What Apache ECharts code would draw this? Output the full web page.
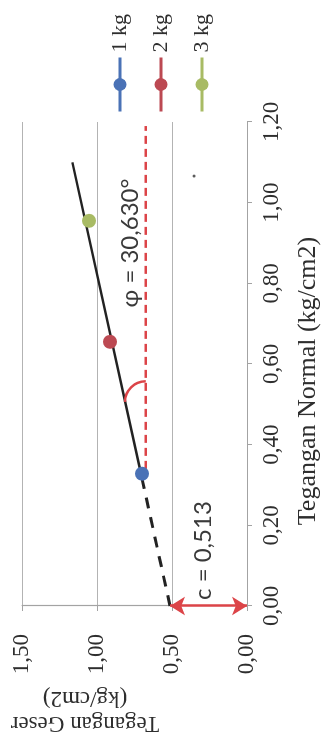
<!DOCTYPE html>
<html>
<head>
<meta charset="utf-8">
<script src="https://cdn.jsdelivr.net/npm/echarts@6/dist/echarts.min.js"></script>
<style>
  html, body { margin: 0; padding: 0; background: #fff; overflow: hidden; width: 323px; height: 749px; }
  /* the chart is laid out landscape and turned a quarter turn to stand upright on the page */
  #chart { position: absolute; left: 0; top: 0; width: 749px; height: 323px;
           transform-origin: 0 0; transform: translateY(749px) rotate(-90deg); }
</style>
</head>
<body>
<div id="chart"></div>
<script>
// shear test results: one point per normal load
const loadNames = ['1 kg', '2 kg', '3 kg'];
const normalStress = [0.328, 0.655, 0.955];   // kg/cm2
const shearStress = [0.700, 0.913, 1.053];    // kg/cm2

// Mohr-Coulomb envelope
const cohesion = 0.513;        // c, kg/cm2
const frictionAngle = 30.630;  // phi, degrees
const envelopeDashedFrom = 0;
const envelopeSolidFrom = 0.328;
const envelopeEnd = 1.10;

// horizontal reference used to mark the friction angle
const refLevel = 0.675;
const refFrom = 0.34;
const refTo = 1.19;
const angleMarkAt = 0.506;

// loose speck on the plot
const speck = [1.066, 0.353];

// annotation anchors
const cLabelAt = [0.01, 0.29];
const phiLabelAt = [0.90, 0.775];

// axis ranges
const normalMin = 0, normalMax = 1.2, normalStep = 0.2;
const shearMin = 0, shearMax = 1.5, shearStep = 0.5;

const pointColors = ['#4a72b6', '#bc4952', '#a8bb64'];
const red = '#dc4448';
const serif = '"Liberation Serif", "DejaVu Serif", serif';
const sans = 'Lato, "Open Sans", sans-serif';

const slope = Math.tan(frictionAngle * Math.PI / 180);
const envelope = n => cohesion + slope * n;
const comma2 = v => v.toFixed(2).replace('.', ',');
const comma3 = v => v.toFixed(3).replace('.', ',');

const chart = echarts.init(document.getElementById('chart'), null, { renderer: 'canvas' });

const pointSeries = loadNames.map((name, i) => ({
  name: name,
  type: 'line',
  data: [[normalStress[i], shearStress[i]]],
  symbol: 'circle',
  symbolSize: 14,
  itemStyle: { color: pointColors[i] },
  lineStyle: { color: pointColors[i], width: 3 },
  z: 6
}));

chart.setOption({
  animation: false,
  backgroundColor: '#fff',
  grid: { left: 143, right: 122, top: 22, bottom: 76 },
  xAxis: {
    type: 'value',
    min: normalMin, max: normalMax, interval: normalStep,
    axisLine: { show: true, onZero: false, lineStyle: { color: '#a3a3a3', width: 1.2 } },
    axisTick: { show: true, inside: false, length: 5, lineStyle: { color: '#a3a3a3' } },
    splitLine: { show: false },
    axisLabel: { margin: 13, formatter: comma2, fontFamily: serif, fontSize: 23, color: '#2e2e2e' }
  },
  yAxis: {
    type: 'value',
    min: shearMin, max: shearMax, interval: shearStep,
    axisLine: { show: true, onZero: false, lineStyle: { color: '#a3a3a3', width: 1.2 } },
    axisTick: { show: true, inside: false, length: 5, lineStyle: { color: '#a3a3a3' } },
    splitLine: { show: true, lineStyle: { color: '#b3b3b3', width: 1 } },
    axisLabel: { margin: 28, formatter: comma2, fontFamily: serif, fontSize: 23, color: '#2e2e2e' }
  },
  legend: {
    orient: 'vertical',
    left: 631, top: 104,
    itemWidth: 54, itemHeight: 16, itemGap: 19,
    data: loadNames,
    lineStyle: { width: 3 },
    textStyle: { fontFamily: serif, fontSize: 22, color: '#2e2e2e' }
  },
  graphic: [
    {
      type: 'text', x: 38, y: 85, rotation: Math.PI / 2,
      style: { text: 'Tegangan Geser\n(kg/cm2)', align: 'center', verticalAlign: 'middle',
               font: '23px ' + serif, fill: '#2e2e2e', lineHeight: 25 }
    },
    {
      type: 'text', x: 368, y: 308,
      style: { text: 'Tegangan Normal (kg/cm2)', align: 'center', verticalAlign: 'middle',
               font: '26px ' + serif, fill: '#2e2e2e' }
    }
  ],
  series: [
    {
      name: 'envelope-dashed',
      type: 'line',
      data: [[envelopeDashedFrom, envelope(envelopeDashedFrom)], [envelopeSolidFrom, envelope(envelopeSolidFrom)]],
      symbol: 'none',
      lineStyle: { color: '#222', width: 3, type: [11, 9] },
      z: 3,
      markLine: {
        silent: true,
        symbol: ['arrow', 'arrow'],
        symbolSize: [14, 15],
        lineStyle: { color: red, width: 2.5, type: 'solid' },
        label: { show: false },
        data: [[{ coord: [0, 0] }, { coord: [0, cohesion] }]]
      },
      markPoint: {
        silent: true,
        symbol: 'circle', symbolSize: 0,
        data: [
          { coord: cLabelAt, label: { show: true, position: 'right', distance: 2, formatter: 'c = ' + comma3(cohesion),
            fontFamily: sans, fontSize: 24, color: '#3a3a3a' } },
          { coord: phiLabelAt, label: { show: true, position: 'inside', formatter: 'φ = ' + comma3(frictionAngle) + '°',
            fontFamily: sans, fontSize: 24, color: '#3a3a3a' } }
        ]
      }
    },
    {
      name: 'envelope',
      type: 'line',
      data: [[envelopeSolidFrom, envelope(envelopeSolidFrom)], [envelopeEnd, envelope(envelopeEnd)]],
      symbol: 'none',
      lineStyle: { color: '#222', width: 2.5 },
      z: 3
    },
    {
      name: 'reference',
      type: 'line',
      data: [[refFrom, refLevel], [refTo, refLevel]],
      symbol: 'none',
      lineStyle: { color: red, width: 2.5, type: [8, 5] },
      z: 2
    },
    {
      name: 'angle',
      type: 'custom',
      data: [[angleMarkAt, refLevel]],
      renderItem: function (params, api) {
        const n = api.value(0), g = api.value(1);
        const c = api.coord([n, g]);
        const top = api.coord([n, envelope(n)]);
        const r = c[1] - top[1];
        return {
          type: 'arc',
          shape: { cx: c[0], cy: c[1], r: r, startAngle: -Math.PI / 2, endAngle: 0, clockwise: true },
          style: { stroke: red, lineWidth: 2.5, fill: null }
        };
      },
      z: 4
    },
    {
      name: 'speck',
      type: 'scatter',
      data: [speck],
      symbolSize: 3,
      itemStyle: { color: '#333' },
      z: 2
    }
  ].concat(pointSeries)
});
</script>
</body>
</html>
